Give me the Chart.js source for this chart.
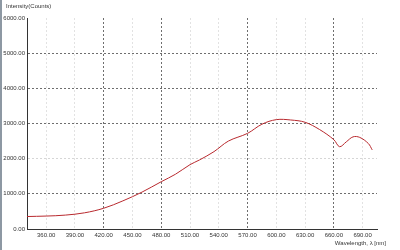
<!DOCTYPE html>
<html>
<head>
<meta charset="utf-8">
<script src="https://cdn.jsdelivr.net/npm/chart.js@4/dist/chart.umd.min.js"></script>
<style>
  html, body { margin: 0; padding: 0; background: #ffffff; }
  #wrap { position: relative; width: 400px; height: 250px; }
  #edge { position: absolute; left: 0; top: 0; width: 2px; height: 250px; background: #8d98a3; }
</style>
</head>
<body>
<div id="wrap">
  <canvas id="c" width="400" height="250"></canvas>
  <div id="edge"></div>
</div>
<script>
// ---- data ----
const wavelengths = [340, 360, 380, 400, 420, 440, 460, 480, 495, 510, 520, 535, 550, 570, 585, 600, 615, 630, 645, 660, 666, 673, 680, 687, 696, 700];
const intensity   = [355, 368, 395, 460, 590, 800, 1050, 1345, 1560, 1830, 1965, 2200, 2500, 2720, 2980, 3110, 3100, 3035, 2830, 2540, 2340, 2480, 2620, 2605, 2430, 2250];
const xTickValues = [360, 390, 420, 450, 480, 510, 540, 570, 600, 630, 660, 690];
const xDarkTicks  = [420, 480, 570, 660];
const yTickValues = [0, 1000, 2000, 3000, 4000, 5000, 6000];
const yDarkTicks  = [1000, 3000, 4000, 5000];
const yTitle = 'Intensity(Counts)';
const xTitle = 'Wavelength, \u03bb [nm]';

const FONT = { family: '"Liberation Sans", Arial, sans-serif', size: 6 };

const titlesPlugin = {
  id: 'titles',
  afterDraw(chart) {
    const ctx = chart.ctx;
    ctx.save();
    ctx.fillStyle = '#333333';
    ctx.font = '6px "Liberation Sans", Arial, sans-serif';
    ctx.textBaseline = 'middle';
    ctx.textAlign = 'left';
    ctx.fillText(yTitle, 6, 6);
    ctx.textAlign = 'right';
    ctx.fillText(xTitle, 386, 243);
    ctx.restore();
  }
};

new Chart(document.getElementById('c'), {
  type: 'line',
  data: {
    datasets: [{
      data: wavelengths.map((w, i) => ({ x: w, y: intensity[i] })),
      borderColor: '#b8292e',
      borderWidth: 1,
      pointRadius: 0,
      tension: 0.35,
      fill: false
    }]
  },
  options: {
    responsive: false,
    animation: false,
    layout: { padding: { top: 18, right: 23, left: 0, bottom: 0 } },
    plugins: { legend: { display: false }, tooltip: { enabled: false } },
    scales: {
      x: {
        type: 'linear',
        min: 340,
        max: 705,
        afterBuildTicks(axis) { axis.ticks = xTickValues.map(v => ({ value: v })); },
        afterFit(axis) { axis.height = 21; },
        ticks: {
          font: FONT, color: '#333333', padding: 3, maxRotation: 0, autoSkip: false,
          callback: v => Number(v).toFixed(2)
        },
        grid: {
          drawTicks: false,
          lineWidth: 1,
          color: c => (c.tick && xDarkTicks.includes(c.tick.value)) ? '#6e6e6e' : '#e2e2e2'
        },
        border: { display: true, color: '#333333', width: 1, dash: [2, 2] }
      },
      y: {
        min: 0,
        max: 6000,
        afterBuildTicks(axis) { axis.ticks = yTickValues.map(v => ({ value: v })); },
        afterFit(axis) { axis.width = 27; },
        ticks: {
          font: FONT, color: '#333333', padding: 2,
          callback: v => Number(v).toFixed(2)
        },
        grid: {
          drawTicks: false,
          lineWidth: 1,
          color: c => {
            if (!c.tick) return '#e2e2e2';
            if (c.tick.value === 6000 || c.tick.value === 0) return 'rgba(0,0,0,0)';
            return yDarkTicks.includes(c.tick.value) ? '#6e6e6e' : '#d6d6d6';
          }
        },
        border: { display: true, color: '#333333', width: 1, dash: [2, 2] }
      }
    }
  },
  plugins: [titlesPlugin]
});
</script>
</body>
</html>
